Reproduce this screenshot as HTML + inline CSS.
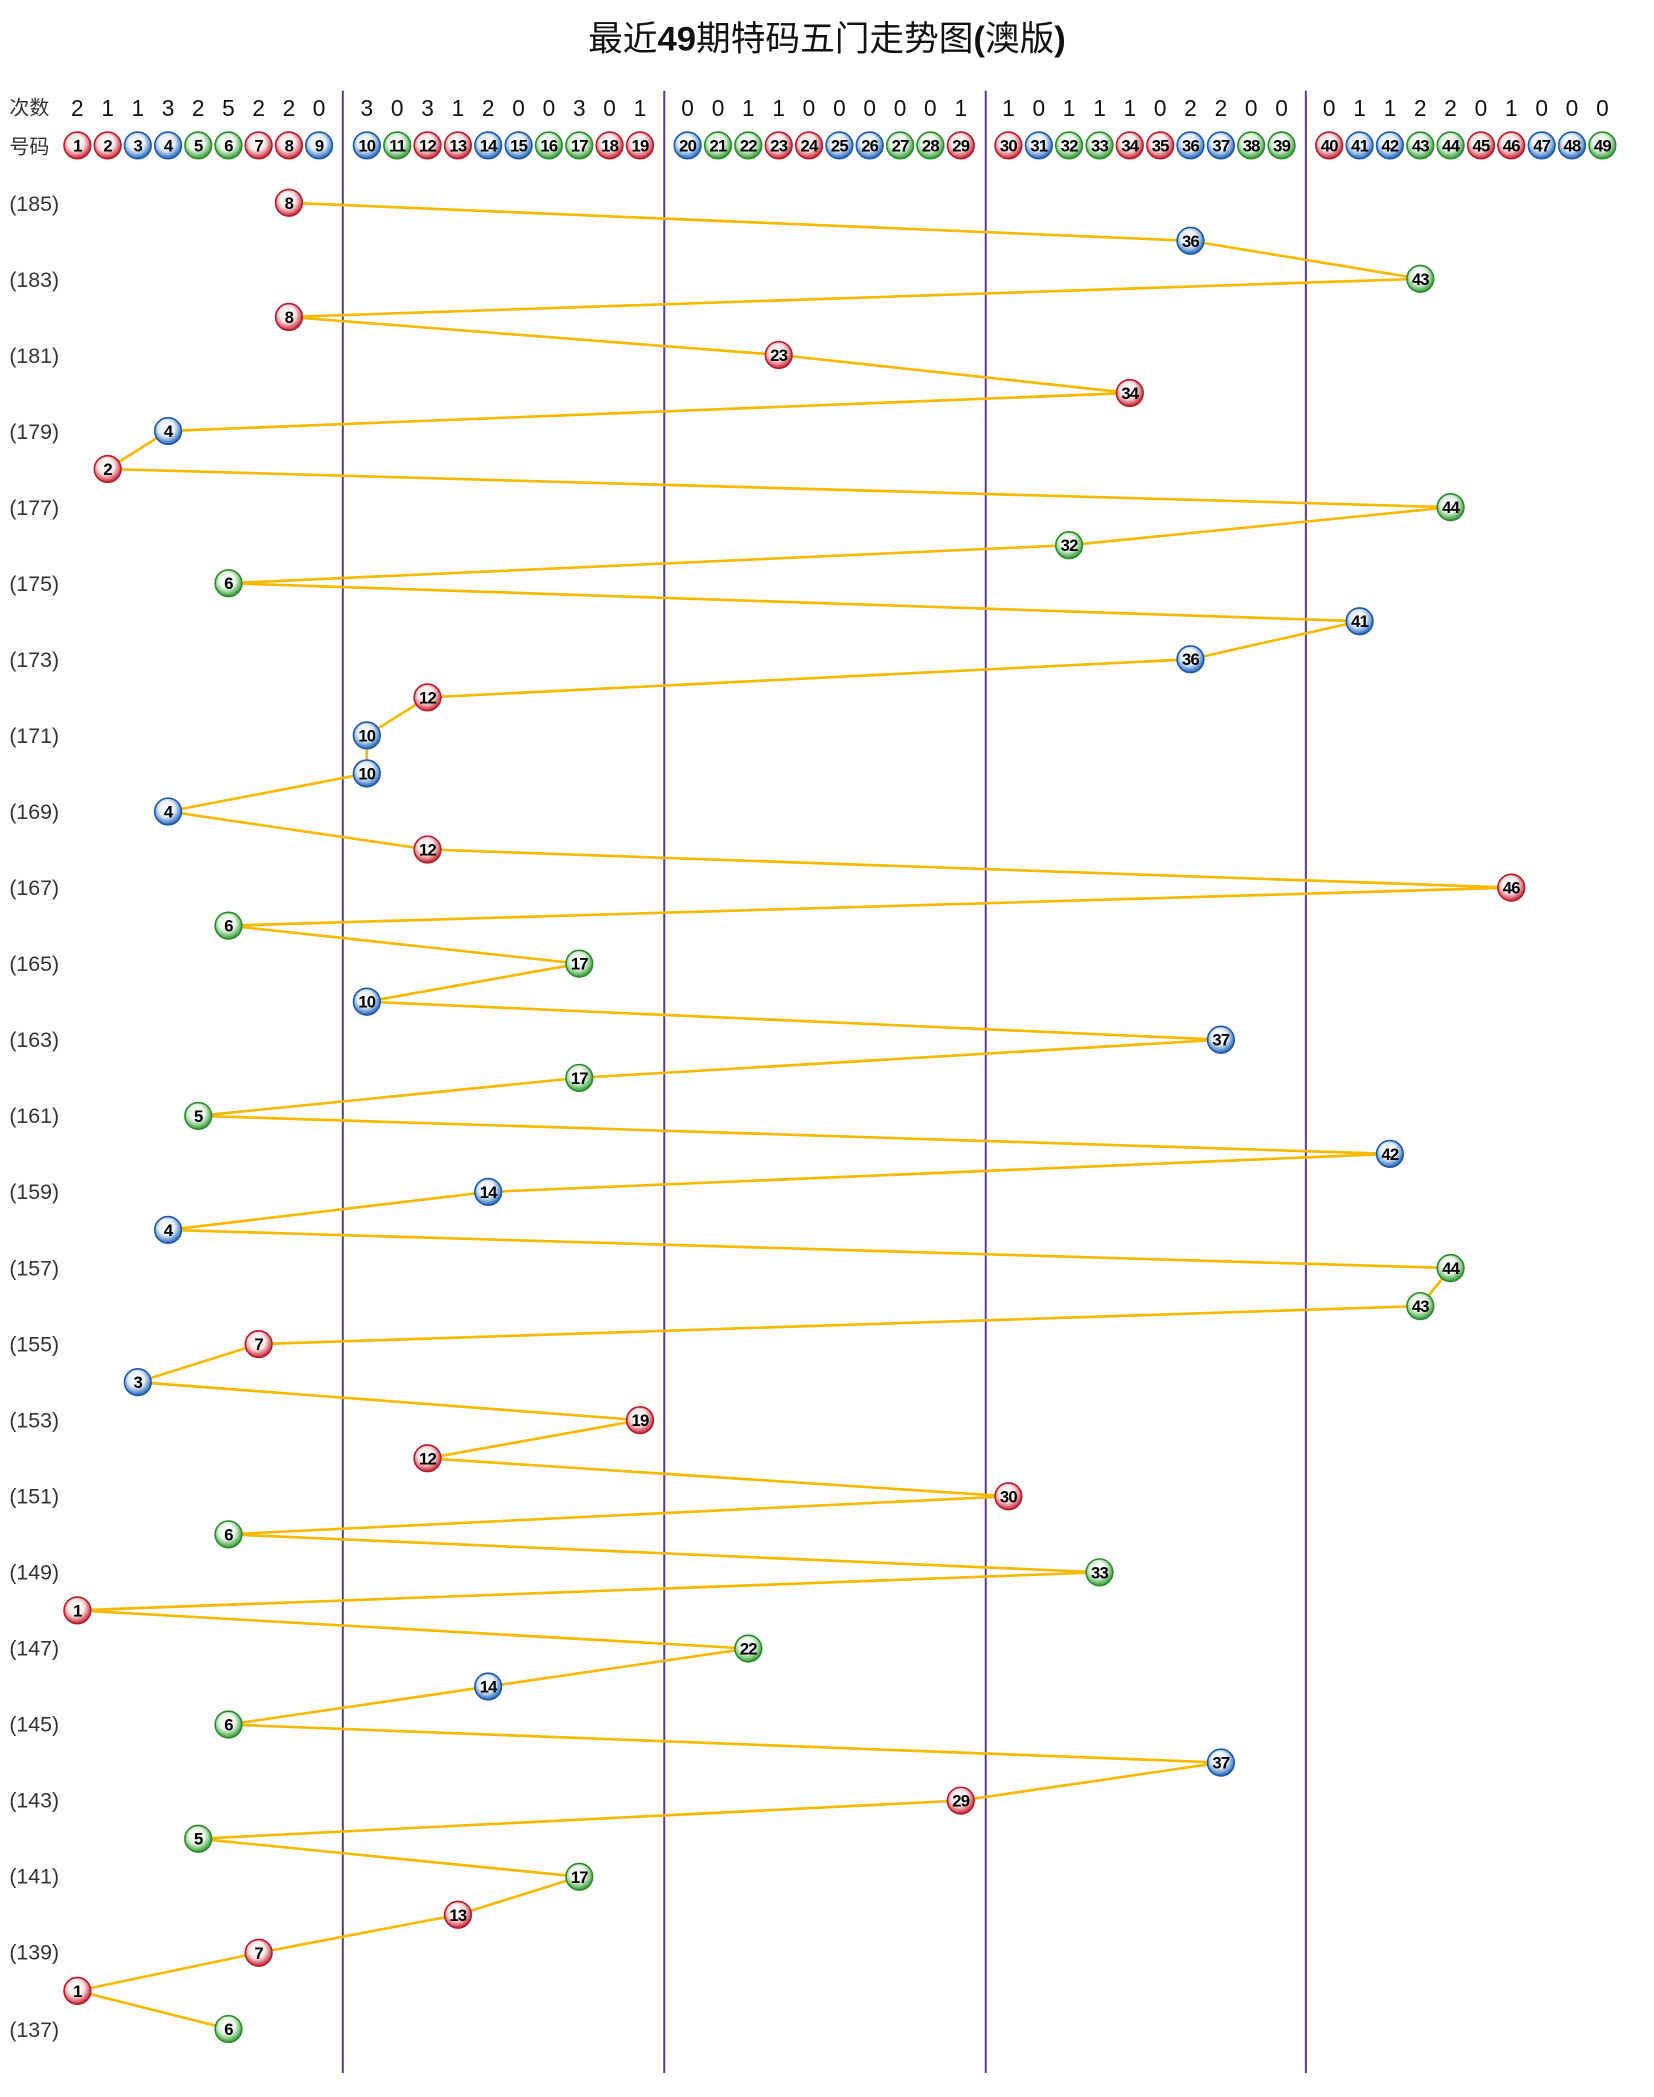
<!DOCTYPE html>
<html><head><meta charset="utf-8"><style>
html,body{margin:0;padding:0;background:#fff;}
svg{display:block;}
.r{fill:url(#gr);stroke:#b81c2c;stroke-width:1.2}
.b{fill:url(#gb);stroke:#1d5aa8;stroke-width:1.2}
.g{fill:url(#gg);stroke:#2c8c2c;stroke-width:1.2}
.n{font-family:"Liberation Sans Narrow","Liberation Sans",sans-serif;font-weight:bold;font-size:12.5px;fill:#000;text-anchor:middle;letter-spacing:-0.6px}
.c{font-family:"Liberation Sans",sans-serif;font-size:17px;fill:#111;text-anchor:middle}
.l{font-family:"Liberation Sans",sans-serif;font-size:16px;fill:#333}
.h{font-family:"Liberation Sans","Noto Sans CJK SC",sans-serif;font-size:15px;fill:#333}
</style></head><body>
<svg width="1654" height="2097" viewBox="0 0 1240 1572" preserveAspectRatio="none" xmlns="http://www.w3.org/2000/svg">
<defs>
<radialGradient id="gr" cx="0.45" cy="0.4" r="0.6"><stop offset="0" stop-color="#fff"/><stop offset="0.5" stop-color="#fbeaea"/><stop offset="1" stop-color="#c41e30"/></radialGradient>
<radialGradient id="gb" cx="0.45" cy="0.4" r="0.6"><stop offset="0" stop-color="#fff"/><stop offset="0.5" stop-color="#e8f0fb"/><stop offset="1" stop-color="#1f62b8"/></radialGradient>
<radialGradient id="gg" cx="0.45" cy="0.4" r="0.6"><stop offset="0" stop-color="#fff"/><stop offset="0.5" stop-color="#ebf7ea"/><stop offset="1" stop-color="#2e9a2e"/></radialGradient>
</defs>
<text x="620" y="38" text-anchor="middle" style="font-family:'Liberation Sans','Noto Sans CJK SC',sans-serif;font-size:26px;fill:#111">最近<tspan font-weight="bold">49</tspan>期特码五门走势图<tspan font-weight="bold">(</tspan>澳版<tspan font-weight="bold">)</tspan></text>
<g stroke="#5b3a8e" stroke-width="1.5">
<line x1="257" y1="68" x2="257" y2="1554"/><line x1="498" y1="68" x2="498" y2="1554"/><line x1="739" y1="68" x2="739" y2="1554"/><line x1="979" y1="68" x2="979" y2="1554"/>
</g>
<text class="h" x="7" y="86">次数</text><text class="h" x="7" y="115">号码</text>
<g class="c">
<text x="58" y="87">2</text><text x="80.7" y="87">1</text><text x="103.3" y="87">1</text><text x="126" y="87">3</text><text x="148.6" y="87">2</text><text x="171.3" y="87">5</text><text x="193.9" y="87">2</text><text x="216.6" y="87">2</text><text x="239.2" y="87">0</text>
<text x="275" y="87">3</text><text x="297.8" y="87">0</text><text x="320.5" y="87">3</text><text x="343.3" y="87">1</text><text x="366" y="87">2</text><text x="388.8" y="87">0</text><text x="411.5" y="87">0</text><text x="434.3" y="87">3</text><text x="457" y="87">0</text><text x="479.8" y="87">1</text>
<text x="515.5" y="87">0</text><text x="538.3" y="87">0</text><text x="561" y="87">1</text><text x="583.8" y="87">1</text><text x="606.5" y="87">0</text><text x="629.3" y="87">0</text><text x="652" y="87">0</text><text x="674.8" y="87">0</text><text x="697.5" y="87">0</text><text x="720.3" y="87">1</text>
<text x="756" y="87">1</text><text x="778.8" y="87">0</text><text x="801.5" y="87">1</text><text x="824.3" y="87">1</text><text x="847" y="87">1</text><text x="869.8" y="87">0</text><text x="892.5" y="87">2</text><text x="915.3" y="87">2</text><text x="938" y="87">0</text><text x="960.8" y="87">0</text>
<text x="996.5" y="87">0</text><text x="1019.3" y="87">1</text><text x="1042" y="87">1</text><text x="1064.8" y="87">2</text><text x="1087.5" y="87">2</text><text x="1110.3" y="87">0</text><text x="1133" y="87">1</text><text x="1155.8" y="87">0</text><text x="1178.5" y="87">0</text><text x="1201.3" y="87">0</text>
</g>
<g>
<circle class="r" cx="58" cy="109" r="10"/><circle class="r" cx="80.7" cy="109" r="10"/><circle class="b" cx="103.3" cy="109" r="10"/><circle class="b" cx="126" cy="109" r="10"/><circle class="g" cx="148.6" cy="109" r="10"/><circle class="g" cx="171.3" cy="109" r="10"/><circle class="r" cx="193.9" cy="109" r="10"/><circle class="r" cx="216.6" cy="109" r="10"/><circle class="b" cx="239.2" cy="109" r="10"/>
<circle class="b" cx="275" cy="109" r="10"/><circle class="g" cx="297.8" cy="109" r="10"/><circle class="r" cx="320.5" cy="109" r="10"/><circle class="r" cx="343.3" cy="109" r="10"/><circle class="b" cx="366" cy="109" r="10"/><circle class="b" cx="388.8" cy="109" r="10"/><circle class="g" cx="411.5" cy="109" r="10"/><circle class="g" cx="434.3" cy="109" r="10"/><circle class="r" cx="457" cy="109" r="10"/><circle class="r" cx="479.8" cy="109" r="10"/>
<circle class="b" cx="515.5" cy="109" r="10"/><circle class="g" cx="538.3" cy="109" r="10"/><circle class="g" cx="561" cy="109" r="10"/><circle class="r" cx="583.8" cy="109" r="10"/><circle class="r" cx="606.5" cy="109" r="10"/><circle class="b" cx="629.3" cy="109" r="10"/><circle class="b" cx="652" cy="109" r="10"/><circle class="g" cx="674.8" cy="109" r="10"/><circle class="g" cx="697.5" cy="109" r="10"/><circle class="r" cx="720.3" cy="109" r="10"/>
<circle class="r" cx="756" cy="109" r="10"/><circle class="b" cx="778.8" cy="109" r="10"/><circle class="g" cx="801.5" cy="109" r="10"/><circle class="g" cx="824.3" cy="109" r="10"/><circle class="r" cx="847" cy="109" r="10"/><circle class="r" cx="869.8" cy="109" r="10"/><circle class="b" cx="892.5" cy="109" r="10"/><circle class="b" cx="915.3" cy="109" r="10"/><circle class="g" cx="938" cy="109" r="10"/><circle class="g" cx="960.8" cy="109" r="10"/>
<circle class="r" cx="996.5" cy="109" r="10"/><circle class="b" cx="1019.3" cy="109" r="10"/><circle class="b" cx="1042" cy="109" r="10"/><circle class="g" cx="1064.8" cy="109" r="10"/><circle class="g" cx="1087.5" cy="109" r="10"/><circle class="r" cx="1110.3" cy="109" r="10"/><circle class="r" cx="1133" cy="109" r="10"/><circle class="b" cx="1155.8" cy="109" r="10"/><circle class="b" cx="1178.5" cy="109" r="10"/><circle class="g" cx="1201.3" cy="109" r="10"/>
</g>
<g class="n">
<text x="58" y="113.5">1</text><text x="80.7" y="113.5">2</text><text x="103.3" y="113.5">3</text><text x="126" y="113.5">4</text><text x="148.6" y="113.5">5</text><text x="171.3" y="113.5">6</text><text x="193.9" y="113.5">7</text><text x="216.6" y="113.5">8</text><text x="239.2" y="113.5">9</text>
<text x="275" y="113.5">10</text><text x="297.8" y="113.5">11</text><text x="320.5" y="113.5">12</text><text x="343.3" y="113.5">13</text><text x="366" y="113.5">14</text><text x="388.8" y="113.5">15</text><text x="411.5" y="113.5">16</text><text x="434.3" y="113.5">17</text><text x="457" y="113.5">18</text><text x="479.8" y="113.5">19</text>
<text x="515.5" y="113.5">20</text><text x="538.3" y="113.5">21</text><text x="561" y="113.5">22</text><text x="583.8" y="113.5">23</text><text x="606.5" y="113.5">24</text><text x="629.3" y="113.5">25</text><text x="652" y="113.5">26</text><text x="674.8" y="113.5">27</text><text x="697.5" y="113.5">28</text><text x="720.3" y="113.5">29</text>
<text x="756" y="113.5">30</text><text x="778.8" y="113.5">31</text><text x="801.5" y="113.5">32</text><text x="824.3" y="113.5">33</text><text x="847" y="113.5">34</text><text x="869.8" y="113.5">35</text><text x="892.5" y="113.5">36</text><text x="915.3" y="113.5">37</text><text x="938" y="113.5">38</text><text x="960.8" y="113.5">39</text>
<text x="996.5" y="113.5">40</text><text x="1019.3" y="113.5">41</text><text x="1042" y="113.5">42</text><text x="1064.8" y="113.5">43</text><text x="1087.5" y="113.5">44</text><text x="1110.3" y="113.5">45</text><text x="1133" y="113.5">46</text><text x="1155.8" y="113.5">47</text><text x="1178.5" y="113.5">48</text><text x="1201.3" y="113.5">49</text>
</g>
<g class="l">
<text x="7" y="158">(185)</text><text x="7" y="215">(183)</text><text x="7" y="272">(181)</text><text x="7" y="329">(179)</text><text x="7" y="386">(177)</text><text x="7" y="443">(175)</text><text x="7" y="500">(173)</text><text x="7" y="557">(171)</text><text x="7" y="614">(169)</text><text x="7" y="671">(167)</text><text x="7" y="728">(165)</text><text x="7" y="785">(163)</text><text x="7" y="842">(161)</text><text x="7" y="899">(159)</text><text x="7" y="956">(157)</text><text x="7" y="1013">(155)</text><text x="7" y="1070">(153)</text><text x="7" y="1127">(151)</text><text x="7" y="1184">(149)</text><text x="7" y="1241">(147)</text><text x="7" y="1298">(145)</text><text x="7" y="1355">(143)</text><text x="7" y="1412">(141)</text><text x="7" y="1469">(139)</text><text x="7" y="1527">(137)</text>
</g>
<polyline fill="none" stroke="#f7b900" stroke-width="2" points="216.6,152 892.5,180.5 1064.8,209 216.6,237.6 583.8,266.1 847,294.6 126,323.1 80.7,351.6 1087.5,380.2 801.5,408.7 171.3,437.2 1019.3,465.7 892.5,494.2 320.5,522.8 275,551.3 275,579.8 126,608.3 320.5,636.8 1133,665.4 171.3,693.9 434.3,722.4 275,750.9 915.3,779.4 434.3,808 148.6,836.5 1042,865 366,893.5 126,922 1087.5,950.6 1064.8,979.1 193.9,1007.6 103.3,1036.1 479.8,1064.6 320.5,1093.2 756,1121.7 171.3,1150.2 824.3,1178.7 58,1207.2 561,1235.8 366,1264.3 171.3,1292.8 915.3,1321.3 720.3,1349.8 148.6,1378.4 434.3,1406.9 343.3,1435.4 193.9,1463.9 58,1492.4 171.3,1521"/>
<g>
<circle class="r" cx="216.6" cy="152" r="10"/><circle class="b" cx="892.5" cy="180.5" r="10"/><circle class="g" cx="1064.8" cy="209" r="10"/><circle class="r" cx="216.6" cy="237.6" r="10"/><circle class="r" cx="583.8" cy="266.1" r="10"/><circle class="r" cx="847" cy="294.6" r="10"/><circle class="b" cx="126" cy="323.1" r="10"/><circle class="r" cx="80.7" cy="351.6" r="10"/><circle class="g" cx="1087.5" cy="380.2" r="10"/><circle class="g" cx="801.5" cy="408.7" r="10"/><circle class="g" cx="171.3" cy="437.2" r="10"/><circle class="b" cx="1019.3" cy="465.7" r="10"/><circle class="b" cx="892.5" cy="494.2" r="10"/><circle class="r" cx="320.5" cy="522.8" r="10"/><circle class="b" cx="275" cy="551.3" r="10"/><circle class="b" cx="275" cy="579.8" r="10"/><circle class="b" cx="126" cy="608.3" r="10"/><circle class="r" cx="320.5" cy="636.8" r="10"/><circle class="r" cx="1133" cy="665.4" r="10"/><circle class="g" cx="171.3" cy="693.9" r="10"/><circle class="g" cx="434.3" cy="722.4" r="10"/><circle class="b" cx="275" cy="750.9" r="10"/><circle class="b" cx="915.3" cy="779.4" r="10"/><circle class="g" cx="434.3" cy="808" r="10"/><circle class="g" cx="148.6" cy="836.5" r="10"/><circle class="b" cx="1042" cy="865" r="10"/><circle class="b" cx="366" cy="893.5" r="10"/><circle class="b" cx="126" cy="922" r="10"/><circle class="g" cx="1087.5" cy="950.6" r="10"/><circle class="g" cx="1064.8" cy="979.1" r="10"/><circle class="r" cx="193.9" cy="1007.6" r="10"/><circle class="b" cx="103.3" cy="1036.1" r="10"/><circle class="r" cx="479.8" cy="1064.6" r="10"/><circle class="r" cx="320.5" cy="1093.2" r="10"/><circle class="r" cx="756" cy="1121.7" r="10"/><circle class="g" cx="171.3" cy="1150.2" r="10"/><circle class="g" cx="824.3" cy="1178.7" r="10"/><circle class="r" cx="58" cy="1207.2" r="10"/><circle class="g" cx="561" cy="1235.8" r="10"/><circle class="b" cx="366" cy="1264.3" r="10"/><circle class="g" cx="171.3" cy="1292.8" r="10"/><circle class="b" cx="915.3" cy="1321.3" r="10"/><circle class="r" cx="720.3" cy="1349.8" r="10"/><circle class="g" cx="148.6" cy="1378.4" r="10"/><circle class="g" cx="434.3" cy="1406.9" r="10"/><circle class="r" cx="343.3" cy="1435.4" r="10"/><circle class="r" cx="193.9" cy="1463.9" r="10"/><circle class="r" cx="58" cy="1492.4" r="10"/><circle class="g" cx="171.3" cy="1521" r="10"/>
</g>
<g class="n">
<text x="216.6" y="156.5">8</text><text x="892.5" y="185">36</text><text x="1064.8" y="213.5">43</text><text x="216.6" y="242.1">8</text><text x="583.8" y="270.6">23</text><text x="847" y="299.1">34</text><text x="126" y="327.6">4</text><text x="80.7" y="356.1">2</text><text x="1087.5" y="384.7">44</text><text x="801.5" y="413.2">32</text><text x="171.3" y="441.7">6</text><text x="1019.3" y="470.2">41</text><text x="892.5" y="498.7">36</text><text x="320.5" y="527.3">12</text><text x="275" y="555.8">10</text><text x="275" y="584.3">10</text><text x="126" y="612.8">4</text><text x="320.5" y="641.3">12</text><text x="1133" y="669.9">46</text><text x="171.3" y="698.4">6</text><text x="434.3" y="726.9">17</text><text x="275" y="755.4">10</text><text x="915.3" y="783.9">37</text><text x="434.3" y="812.5">17</text><text x="148.6" y="841">5</text><text x="1042" y="869.5">42</text><text x="366" y="898">14</text><text x="126" y="926.5">4</text><text x="1087.5" y="955.1">44</text><text x="1064.8" y="983.6">43</text><text x="193.9" y="1012.1">7</text><text x="103.3" y="1040.6">3</text><text x="479.8" y="1069.1">19</text><text x="320.5" y="1097.7">12</text><text x="756" y="1126.2">30</text><text x="171.3" y="1154.7">6</text><text x="824.3" y="1183.2">33</text><text x="58" y="1211.7">1</text><text x="561" y="1240.3">22</text><text x="366" y="1268.8">14</text><text x="171.3" y="1297.3">6</text><text x="915.3" y="1325.8">37</text><text x="720.3" y="1354.3">29</text><text x="148.6" y="1382.9">5</text><text x="434.3" y="1411.4">17</text><text x="343.3" y="1439.9">13</text><text x="193.9" y="1468.4">7</text><text x="58" y="1496.9">1</text><text x="171.3" y="1525.5">6</text>
</g>
</svg>
</body></html>
